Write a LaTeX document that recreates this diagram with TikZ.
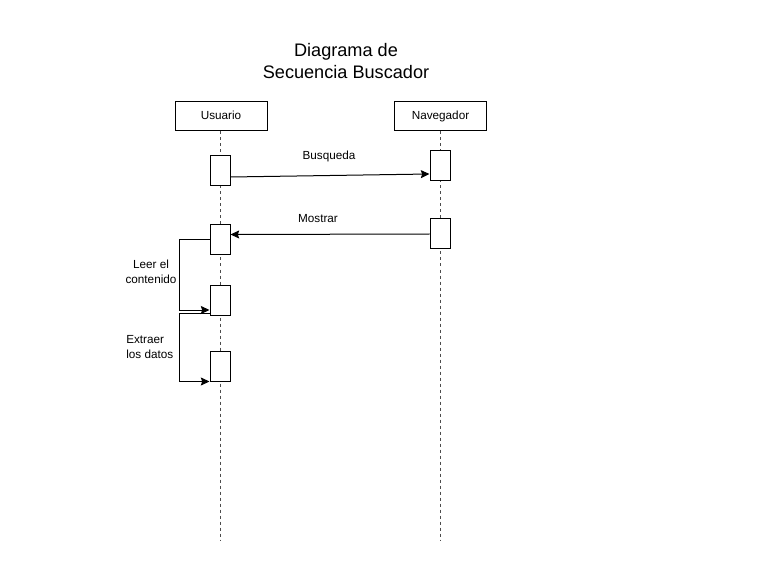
\documentclass[tikz,border=0pt]{standalone}
\usepackage{fontspec}
\setmainfont{Liberation Sans}
\usetikzlibrary{arrows,arrows.meta,positioning,shapes}

\begin{document}
\begin{tikzpicture}[x=0.75pt,y=-0.75pt,
    actor/.style={draw=black, line width=0.75pt, minimum width=69pt, minimum height=21.75pt, inner sep=0pt, text height=6.3pt, text depth=1.6pt, font=\fontsize{8.8}{10}\selectfont},
    activ/.style={draw=black, fill=white, line width=0.75pt, minimum width=15pt, minimum height=22.5pt, inner sep=0pt},
    lifeline/.style={black!70, line width=0.75pt, dash pattern=on 2.25pt off 2.25pt},
    msg/.style={black, line width=0.75pt, -{Stealth[length=6.5pt,width=6pt,inset=1pt]}},
    lbl/.style={font=\fontsize{8.8}{11.25}\selectfont, inner sep=0pt}]

\useasboundingbox (0,0) rectangle (781,577);

%% Title
\node[align=center, font=\fontsize{13.6}{16.5}\selectfont] (title) at (346,61) {Diagrama de\\Secuencia Buscador};

%% Participants
\node[actor] (usr) at (221,116.5) {Usuario};
\node[actor] (nav) at (440.5,116.5) {Navegador};

\coordinate (usrend) at (220,540);
\coordinate (navend) at (440,540);
\draw[lifeline] (usr.south -| usrend) -- (usrend);
\draw[lifeline] (nav.south -| navend) -- (navend);

%% Activations
\node[activ] (u1) at (220,171) {};
\node[activ] (u2) at (220,239.5) {};
\node[activ] (u3) at (220,300) {};
\node[activ] (u4) at (220,366) {};
\node[activ] (n1) at (440,166) {};
\node[activ] (n2) at (440,234) {};

%% Messages
\draw[msg] ([yshift=-4.5pt]u1.east) -- ([yshift=-6pt]n1.west);
\node[lbl] (busq) at (329,156) {Busqueda};

\draw[msg] (n2.west) -- ([yshift=3.75pt]u2.east);
\node[lbl] (most) at (318,219) {Mostrar};

% self calls
\draw[msg] (u2.west) -- ++(-30,0) |- ([yshift=-7.5pt]u3.west);
\node[lbl, align=center] (leer) at (151,272) {Leer el\\contenido};

\draw[msg] ([yshift=-9.75pt]u3.west) -- ++(-30,0) |- (u4.south west);
\node[lbl, align=left, anchor=west] (extr) at (126,347.5) {Extraer\\los datos};

\end{tikzpicture}
\end{document}
